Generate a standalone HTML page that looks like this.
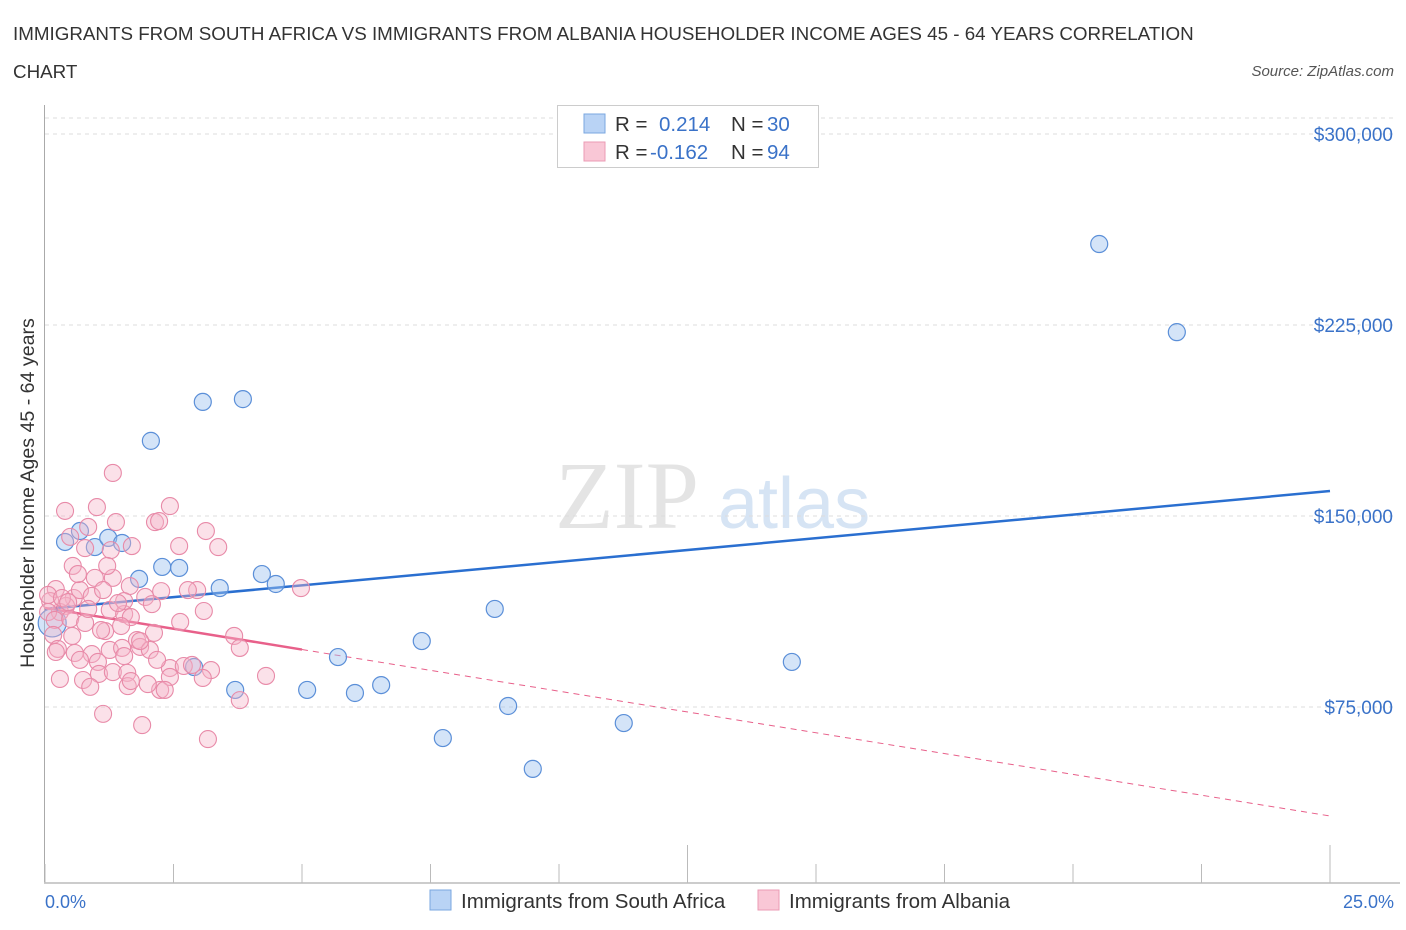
<!DOCTYPE html>
<html><head><meta charset="utf-8"><style>
body{margin:0;background:#fff;font-family:"Liberation Sans",sans-serif;}
svg{display:block}
</style></head><body>
<svg id="chart" width="1406" height="930" xmlns="http://www.w3.org/2000/svg">
<text x="13" y="40" font-size="18.8" fill="#333">IMMIGRANTS FROM SOUTH AFRICA VS IMMIGRANTS FROM ALBANIA HOUSEHOLDER INCOME AGES 45 - 64 YEARS CORRELATION</text>
<text x="13" y="78" font-size="18.8" fill="#333">CHART</text>
<text x="1394" y="76" font-size="15" fill="#555" font-style="italic" text-anchor="end">Source: ZipAtlas.com</text>
<text x="555" y="528" font-size="96" fill="#e4e4e4" font-family="Liberation Serif">ZIP</text>
<text x="718" y="528" font-size="72" fill="#d6e4f4">atlas</text>
<g id="grid"></g>
<line x1="44.5" y1="105" x2="44.5" y2="883" stroke="#aaa"/>
<line x1="44" y1="883" x2="1400" y2="883" stroke="#ccc" stroke-width="2"/>
<g id="ticks"></g>
<text transform="translate(34,493) rotate(-90)" font-size="19.6" fill="#333" text-anchor="middle">Householder Income Ages 45 - 64 years</text>
<g id="lines"></g>
<g id="pts"></g>
<text x="45" y="908" font-size="18" fill="#3a72c8">0.0%</text>
<text x="1394" y="908" font-size="18" fill="#3a72c8" text-anchor="end">25.0%</text>
<g>
<rect x="557.5" y="105.5" width="261" height="62" fill="#fff" stroke="#ccc"/>
<rect x="584" y="114" width="21" height="19" fill="#b9d3f5" stroke="#7aa7e0"/>
<rect x="584" y="142" width="21" height="19" fill="#f9c7d6" stroke="#eb9bb4"/>
<text x="615" y="131" font-size="20.5" fill="#333">R =</text><text x="659" y="131" font-size="20.5" fill="#3a72c8">0.214</text>
<text x="731" y="131" font-size="20.5" fill="#333">N =</text><text x="767" y="131" font-size="20.5" fill="#3a72c8">30</text>
<text x="615" y="159" font-size="20.5" fill="#333">R =</text><text x="650" y="159" font-size="20.5" fill="#3a72c8">-0.162</text>
<text x="731" y="159" font-size="20.5" fill="#333">N =</text><text x="767" y="159" font-size="20.5" fill="#3a72c8">94</text>
</g>
<g>
<rect x="430" y="890" width="21" height="20" fill="#b9d3f5" stroke="#7aa7e0"/>
<text x="461" y="908" font-size="20.5" fill="#333">Immigrants from South Africa</text>
<rect x="758" y="890" width="21" height="20" fill="#f9c7d6" stroke="#eb9bb4"/>
<text x="789" y="908" font-size="20.5" fill="#333">Immigrants from Albania</text>
</g>
</svg>
<script>
const yTicks=[75000,150000,225000,300000];
const yTickLabels=["$75,000","$150,000","$225,000","$300,000"];
const blueX=[0.39,0.68,0.97,1.23,1.50,1.83,2.06,2.28,2.61,2.90,3.07,3.40,3.70,3.85,4.22,4.49,5.10,5.70,6.03,6.54,7.33,7.74,8.75,9.01,9.49,11.26,14.53,20.51,22.02,0.14];
const blueY=[139.8,144.1,137.8,141.4,139.4,125.3,179.5,130.0,129.6,90.7,194.8,121.7,81.7,195.9,127.2,123.3,81.7,94.6,80.5,83.6,100.9,62.8,113.5,75.4,50.7,68.7,92.7,256.8,222.2,108.0];
const pinkPx=[[113,473],[65,511],[97,507],[170,506],[88,527],[155,522],[116,522],[159,521],[206,531],[132,546],[179,546],[218,547],[70,537],[85,548],[111,550],[73,566],[56,589],[74,598],[66,606],[60,612],[80,590],[95,578],[113,578],[107,566],[130,586],[145,597],[161,591],[197,590],[301,588],[92,596],[110,610],[124,614],[131,617],[50,601],[48,612],[55,620],[70,619],[85,623],[105,631],[121,626],[152,604],[204,611],[180,622],[234,636],[88,609],[53,635],[72,636],[101,630],[137,640],[154,633],[58,649],[75,653],[92,654],[110,650],[122,648],[140,647],[150,650],[170,668],[80,660],[98,662],[124,656],[157,660],[184,666],[192,665],[211,670],[266,676],[60,679],[83,680],[99,674],[113,672],[127,673],[128,686],[131,681],[170,677],[203,678],[160,690],[165,690],[240,700],[103,714],[142,725],[208,739],[56,652],[48,595],[62,598],[68,602],[124,601],[140,641],[78,574],[103,590],[118,603],[188,590],[240,648],[148,684],[90,687]];
const pinkX=pinkPx.map(p=>+((p[0]-45)/51.4).toFixed(2));
const pinkY=pinkPx.map(p=>+((898-p[1])*0.39267).toFixed(1));
const blueTrend=[113.5,159.8];
const pinkTrend=[113.9,32.2];
const NS="http://www.w3.org/2000/svg";
const xS=p=>45+p*51.4;
const yS=v=>898-v*191/75;
function mk(tag,attrs,parent){const e=document.createElementNS(NS,tag);for(const k in attrs)e.setAttribute(k,attrs[k]);document.getElementById(parent).appendChild(e);return e;}
let g=mk('line',{x1:45,x2:1395,y1:118,y2:118,stroke:'#ddd','stroke-dasharray':'4,4'},'grid');


yTicks.forEach((t,i)=>{
 const y=yS(t/1000);
 const l=mk('line',{x1:45,x2:1395,y1:y,y2:y,stroke:'#ddd','stroke-dasharray':'4,4'},'grid');
 
 
 const tx=mk('text',{x:1393,y:y+7,'font-size':19,fill:'#3a72c8','text-anchor':'end'},'grid');
 tx.textContent=yTickLabels[i];
 
 
});
for(let i=0;i<=10;i++){
 const x=xS(i*2.5);
 const tk=mk('line',{x1:x,x2:x,y1:(i==5||i==10)?845:864,y2:883,stroke:'#bbb'},'ticks');
 
 
}
blueX.forEach((x,i)=>{
 const c=mk('circle',{cx:xS(x),cy:yS(blueY[i]),r:i==29?14:8.5,fill:'rgba(160,196,240,0.45)',stroke:'#5b8fd8','stroke-width':1.2},'pts');
 
 
});
pinkX.forEach((x,i)=>{
 const c=mk('circle',{cx:xS(x),cy:yS(pinkY[i]),r:8.5,fill:'rgba(246,180,200,0.4)',stroke:'#e88aa8','stroke-width':1.1},'pts');
 
 
});
const bl=mk('line',{x1:xS(0),y1:yS(blueTrend[0]),x2:xS(25),y2:yS(blueTrend[1]),stroke:'#2a6fd0','stroke-width':2.5},'lines');


const pv=p=>pinkTrend[0]+(pinkTrend[1]-pinkTrend[0])*p/25;
const pl=mk('line',{x1:xS(0),y1:yS(pv(0)),x2:xS(5),y2:yS(pv(5)),stroke:'#e8608a','stroke-width':2.5},'lines');


const pd=mk('line',{x1:xS(5),y1:yS(pv(5)),x2:xS(25),y2:yS(pv(25)),stroke:'#e8608a','stroke-width':1,'stroke-dasharray':'6,5'},'lines');


</script>
</body></html>
